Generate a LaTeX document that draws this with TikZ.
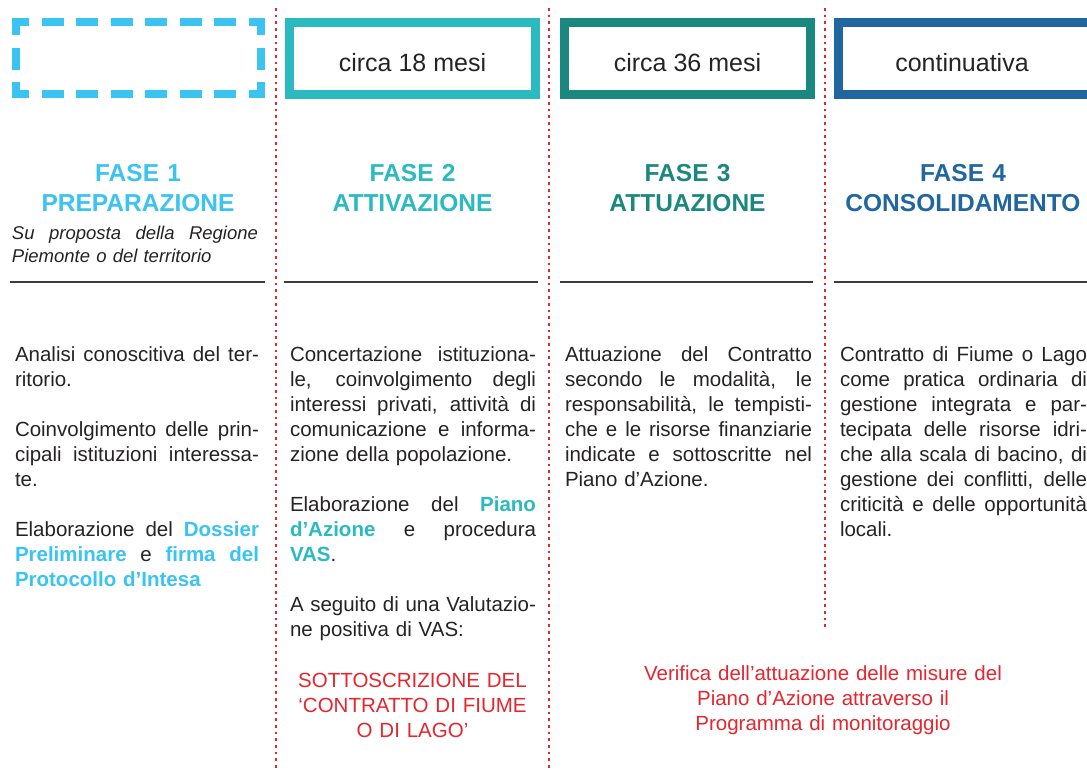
\documentclass[tikz,border=0pt]{standalone}
\usepackage{fontspec}
\setmainfont{Liberation Sans}
\definecolor{c1}{HTML}{3BC3F1}
\definecolor{c2}{HTML}{2BBAC0}
\definecolor{c3}{HTML}{1B8880}
\definecolor{c4}{HTML}{2067A0}
\definecolor{redc}{HTML}{E5262E}
\definecolor{txt}{HTML}{262324}
\definecolor{rulec}{HTML}{3C3C3C}
\newcommand{\jl}[1]{\makebox[\linewidth][s]{\spaceskip=0pt\xspaceskip=0pt #1}}
\newcommand{\hla}[1]{\textbf{\textcolor{c1}{#1}}}
\newcommand{\hlb}[1]{\textbf{\textcolor{c2}{#1}}}
\begin{document}
\begin{tikzpicture}[x=1pt,y=-1pt,
  every node/.style={inner sep=0pt, outer sep=0pt},
  phase/.style={draw=#1, line width=9pt, minimum width=246pt, minimum height=72pt},
  durtext/.style={anchor=base, font=\fontsize{25}{30}\selectfont, text=txt},
  head/.style={anchor=base, text width=290pt, align=center, font=\bfseries\fontsize{24.5}{30}\selectfont, text=#1},
  body/.style={anchor=base west, text width=#1, align=left, font=\fontsize{20.5}{25}\selectfont, text=txt},
  rednote/.style={anchor=base, text width=#1, align=center, font=\fontsize{20.5}{25}\selectfont, text=redc},
  divider/.style={draw=redc, line width=2.7pt, dash pattern=on 2.7pt off 4pt},
  hrule/.style={draw=rulec, line width=2pt},
  dashside/.style={draw=c1, line width=8pt, line cap=rect, dash pattern=on 14pt off 20.5pt, dash phase=5pt}
]
\fill[white] (0,0) rectangle (1087,769);
\useasboundingbox (0,0) rectangle (1087,769);

% dividers
\draw[divider] (276,8) -- (276,769);
\draw[divider] (549,8) -- (549,769);
\draw[divider] (825,8) -- (825,628);

% duration boxes
\node[minimum width=245pt, minimum height=72pt] (b1) at (138.5,58) {};
\draw[dashside] (b1.north west) -- (b1.north east);
\draw[dashside] (b1.south west) -- (b1.south east);
\draw[dashside] (b1.north west) -- (b1.south west);
\draw[dashside] (b1.north east) -- (b1.south east);

\node[phase=c2] (b2) at (412.5,58.5) {};
\node[durtext] (t2) at (412.5,71) {circa 18 mesi};
\node[phase=c3] (b3) at (687.5,58.5) {};
\node[durtext] (t3) at (687.5,71) {circa 36 mesi};
\node[phase=c4, minimum width=262pt] (b4) at (969.5,58.5) {};
\node[durtext] (t4) at (962,71) {continuativa};

% headings
\node[head=c1] (h1) at (138,181) {FASE 1\\PREPARAZIONE};
\node[head=c2] (h2) at (412.5,181) {FASE 2\\ATTIVAZIONE};
\node[head=c3] (h3) at (687.5,181) {FASE 3\\ATTUAZIONE};
\node[head=c4] (h4) at (963,181) {FASE 4\\CONSOLIDAMENTO};

\node[anchor=base west, text width=246pt, align=left, font=\itshape\fontsize{18.5}{23}\selectfont, text=txt] (sub) at (12,239)
  {\jl{Su proposta della Regione}\\Piemonte o del territorio};

% rules
\draw[hrule] (10,282) -- (265,282);
\draw[hrule] (284,282) -- (538,282);
\draw[hrule] (560,282) -- (813,282);
\draw[hrule] (834,282) -- (1087,282);

% column 1
\node[body=244pt] (p11) at (15,361) {\jl{Analisi conoscitiva del ter-}\\ritorio.};
\node[body=244pt] (p12) at (15,436) {\jl{Coinvolgimento delle prin-}\\\jl{cipali istituzioni interessa-}\\te.};
\node[body=244pt] (p13) at (15,536) {\jl{Elaborazione del \hla{Dossier}}\\\jl{\hla{Preliminare} e \hla{firma del}}\\\hla{Protocollo d’Intesa}};

% column 2
\node[body=246pt] (p21) at (290,361) {\jl{Concertazione istituziona-}\\\jl{le, coinvolgimento degli}\\\jl{interessi privati, attività di}\\\jl{comunicazione e informa-}\\zione della popolazione.};
\node[body=246pt] (p22) at (290,511) {\jl{Elaborazione del \hlb{Piano}}\\\jl{\hlb{d’Azione} e procedura}\\\hlb{VAS}.};
\node[body=246pt] (p23) at (290,611) {\jl{A seguito di una Valutazio-}\\ne positiva di VAS:};
\node[rednote=250pt] (r2) at (412.5,687) {SOTTOSCRIZIONE DEL\\‘CONTRATTO DI FIUME\\O DI LAGO’};

% column 3
\node[body=247pt] (p31) at (565,361) {\jl{Attuazione del Contratto}\\\jl{secondo le modalità, le}\\\jl{responsabilità, le tempisti-}\\\jl{che e le risorse finanziarie}\\\jl{indicate e sottoscritte nel}\\Piano d’Azione.};

% column 4
\node[body=247pt] (p41) at (840,361) {\jl{Contratto di Fiume o Lago}\\\jl{come pratica ordinaria di}\\\jl{gestione integrata e par-}\\\jl{tecipata delle risorse idri-}\\\jl{che alla scala di bacino, di}\\\jl{gestione dei conflitti, delle}\\\jl{criticità e delle opportunità}\\locali.};

% bottom note
\node[rednote=420pt] (r3) at (823,680) {Verifica dell’attuazione delle misure del\\Piano d’Azione attraverso il\\Programma di monitoraggio};
\end{tikzpicture}
\end{document}
